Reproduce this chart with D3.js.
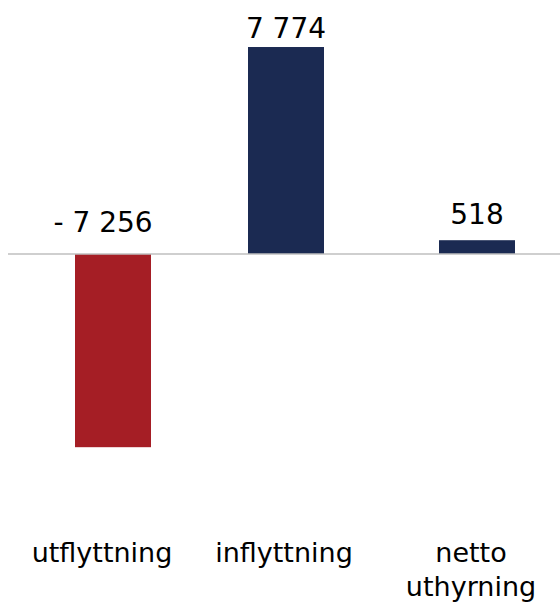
<!DOCTYPE html>
<html>
<head>
<meta charset="utf-8">
<script src="https://cdn.jsdelivr.net/npm/d3@7"></script>
<style>
  html, body { margin: 0; padding: 0; background: #ffffff; }
  svg { display: block; }
  text { font-family: "DejaVu Sans", Verdana, sans-serif; fill: #000; }
</style>
</head>
<body>
<div id="chart"></div>
<script>
// Flyttningar: utflyttning, inflyttning och netto
const categories = ["utflyttning", "inflyttning", "netto uthyrning"];
const values = [-7256, 7774, 518];
const valueLabels = ["- 7 256", "7 774", "518"];
const categoryLines = [["utflyttning"], ["inflyttning"], ["netto", "uthyrning"]];

// Layout
const width = 560, height = 602;
const barWidth = 76;
const valueFontSize = 28;
const catFontSize = 27;
const colorNeg = "#A51E25";
const colorPos = "#1B2A52";
const valueLabelDx = [-10, 0, 0];
const valueLabelY = [
  (y, v) => y(0) - 22,
  (y, v) => y(v) - 9,
  (y, v) => y(v) - 16
];

const svg = d3.select("#chart").append("svg")
  .attr("width", width).attr("height", height);

const x = d3.scaleOrdinal().domain(categories).range([113, 286, 477]);
const xLabel = d3.scaleOrdinal().domain(categories).range([102, 284, 471]);
const y = d3.scaleLinear().domain([-8000, 8000]).range([254 + 213, 254 - 213]);

// Bars
svg.append("g").selectAll("rect")
  .data(values)
  .join("rect")
  .attr("x", (d, i) => x(categories[i]) - barWidth / 2)
  .attr("width", barWidth)
  .attr("y", d => Math.min(y(d), y(0)))
  .attr("height", d => Math.abs(y(d) - y(0)))
  .attr("fill", d => d < 0 ? colorNeg : colorPos);

// Zero line
svg.append("line")
  .attr("x1", 8).attr("x2", width)
  .attr("y1", y(0)).attr("y2", y(0))
  .attr("stroke", "#bfbfbf")
  .attr("stroke-width", 1.3);

// Value labels
svg.append("g").selectAll("text")
  .data(values)
  .join("text")
  .attr("x", (d, i) => x(categories[i]) + valueLabelDx[i])
  .attr("y", (d, i) => valueLabelY[i](y, d))
  .attr("text-anchor", "middle")
  .attr("font-size", valueFontSize)
  .text((d, i) => valueLabels[i]);

// Category labels
const cat = svg.append("g").selectAll("text")
  .data(categories)
  .join("text")
  .attr("x", d => xLabel(d))
  .attr("y", 562)
  .attr("text-anchor", "middle")
  .attr("font-size", catFontSize);
cat.selectAll("tspan")
  .data((d, i) => categoryLines[i].map(t => ({ t, c: d })))
  .join("tspan")
  .attr("x", d => xLabel(d.c))
  .attr("dy", (d, j) => j === 0 ? 0 : 34)
  .text(d => d.t);
</script>
</body>
</html>
